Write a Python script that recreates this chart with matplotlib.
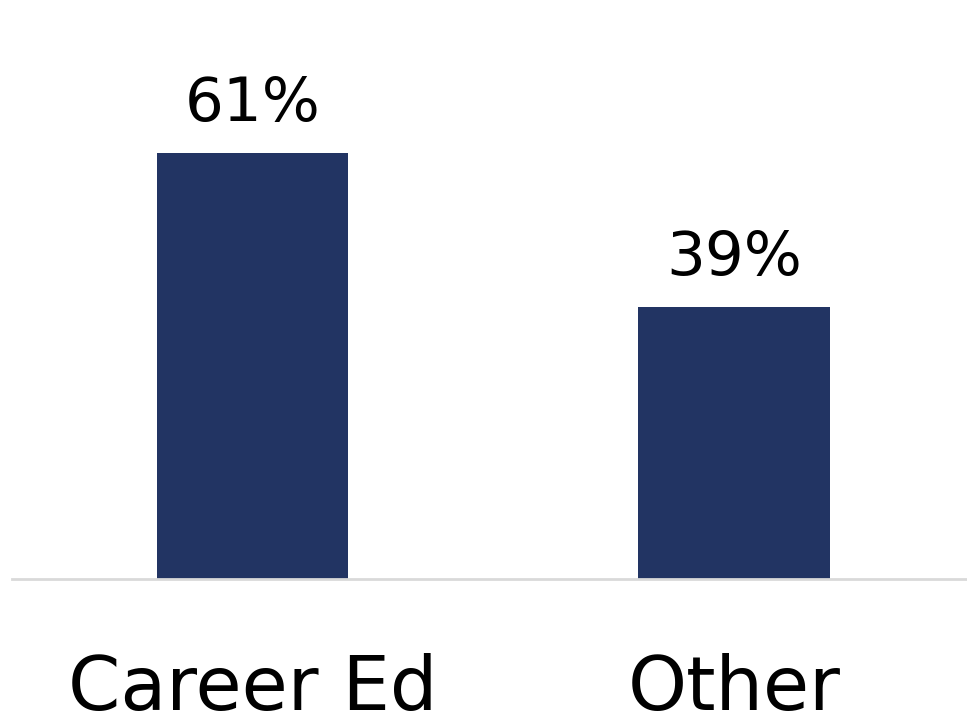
import matplotlib
matplotlib.use("Agg")
import matplotlib.pyplot as plt

categories = ["Career Ed", "Other"]
values = [61, 39]
value_labels = ["61%", "39%"]

bar_color = "#223463"

fig = plt.figure(figsize=(9.67, 7.2), dpi=100)
ax = fig.add_axes([12 / 967, 1 - 579 / 720, 1 - 12 / 967, 579 / 720])

x = list(range(len(categories)))
ax.bar(x, values, width=0.397, color=bar_color, zorder=2)

ax.set_xlim(-0.4995, 1.484)
ax.set_ylim(0, 82.95)

for xi, v, lab in zip(x, values, value_labels):
    ax.annotate(lab, xy=(xi, v), xytext=(0, 23), textcoords="offset points",
                ha="center", va="baseline", fontsize=44, color="black",
                family="DejaVu Sans")

for xi, cat in zip(x, categories):
    ax.annotate(cat, xy=(xi, 0), xytext=(0, -94.3), textcoords="offset points",
                ha="center", va="baseline", fontsize=54, color="black",
                family="DejaVu Sans", annotation_clip=False)

for s in ["top", "right", "left"]:
    ax.spines[s].set_visible(False)
ax.spines["bottom"].set_color("#d9d9d9")
ax.spines["bottom"].set_linewidth(2)
ax.set_xticks([])
ax.set_yticks([])
ax.patch.set_alpha(0)

fig.savefig("out.png", dpi=100)
